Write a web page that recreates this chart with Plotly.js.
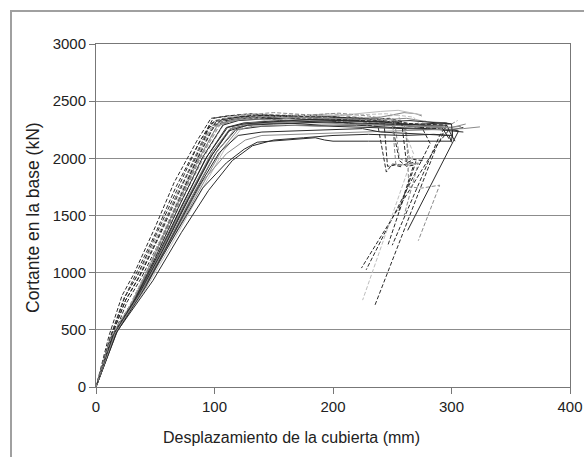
<!DOCTYPE html>
<html>
<head>
<meta charset="utf-8">
<script src="https://cdn.plot.ly/plotly-3.0.1.min.js"></script>
<style>
html,body{margin:0;padding:0;background:#fff;}
#wrap{position:relative;width:584px;height:457px;}
#chart{width:584px;height:457px;}
#frame{position:absolute;left:10px;top:10px;right:0;bottom:0;border-left:2px solid #a0a0a0;border-top:2px solid #a0a0a0;pointer-events:none;}
</style>
</head>
<body>
<div id="wrap"><div id="chart"></div><div id="frame"></div></div>
<script>
// Pushover curves: displacement (mm) vs base shear (kN)
const xTickVals = [0, 100, 200, 300, 400];
const yTickVals = [0, 500, 1000, 1500, 2000, 2500, 3000];
const xTitle = 'Desplazamiento de la cubierta (mm)';
const yTitle = 'Cortante en la base (kN)';

const cA_x = [0,12,24,34,50,67,84,99,110,130,160,190,220,248,265,285,295,290,224];
const cA_y = [0,430,780,990,1340,1740,2080,2350,2370,2390,2365,2380,2340,2350,2300,2280,2270,2150,1040];
const cB_x = [0,12,25,36,52,68,84,96,108,125,150,175,205,235,258,275,282,228];
const cB_y = [0,410,760,960,1300,1680,2000,2300,2350,2370,2360,2375,2335,2350,2290,2270,2130,1025];
const cC_x = [0,13,26,38,55,72,88,95,106,125,150,180,210,240,265,290,298,288,235];
const cC_y = [0,400,740,950,1300,1680,2060,2270,2330,2360,2350,2365,2320,2330,2280,2260,2250,2120,705];
const cD_x = [0,14,32,50,70,90,104,115,140,170,200,230,255,268,225];
const cD_y = [0,460,770,1160,1620,2050,2300,2340,2380,2370,2390,2350,2380,2040,760];
const cE_x = [0,15,34,52,72,92,108,120,145,175,210,240,262,264,275,290,272];
const cE_y = [0,470,790,1170,1620,2030,2300,2340,2360,2350,2340,2310,2250,1750,1740,1765,1280];
const cF_x = [0,16,36,56,78,98,114,130,160,190,220,250,280,300,306,263];
const cF_y = [0,480,800,1190,1640,2030,2260,2300,2310,2290,2290,2270,2260,2250,2240,1370];
const cG_x = [0,12,25,37,54,72,90,104,120,150,180,210,238,245,250,258,265,270,246];
const cG_y = [0,420,760,970,1330,1740,2160,2320,2350,2340,2360,2310,2280,1880,1950,1940,1960,1970,1230];
const cH_x = [0,12,29,46,63,82,100,112,130,160,195,225,250,256,262,268,255];
const cH_y = [0,430,720,1080,1480,1920,2290,2330,2360,2350,2365,2320,2290,1980,1930,1940,1520];
const cI_x = [0,13,31,48,66,86,103,116,140,175,205,235,260,265,272];
const cI_y = [0,440,740,1110,1520,1980,2300,2340,2370,2360,2380,2330,2300,1960,1950];
const cJ_x = [0,16,38,60,82,102,118,140,170,200,230,260,290,300,310];
const cJ_y = [0,470,820,1240,1680,2060,2250,2280,2290,2280,2270,2260,2250,2240,2230];
const cK_x = [0,17,40,62,85,106,122,150,180,210,240,260,270,275];
const cK_y = [0,480,840,1250,1690,2070,2280,2320,2330,2340,2360,2400,2390,2370];
const cL_x = [0,18,42,65,88,108,125,150,180,210,240,255,265,275];
const cL_y = [0,490,860,1270,1700,2070,2290,2350,2370,2380,2410,2420,2400,2380];
const cM_x = [0,14,34,54,76,97,113,135,165,195,225,250,270,285,300];
const cM_y = [0,450,780,1170,1620,2040,2260,2300,2320,2330,2320,2300,2290,2280,2270];
const cN_x = [0,17,34,46,70,90,110,125,136,160,175,185,193,200,230,260,300,301,310];
const cN_y = [0,500,760,963,1390,1740,1960,2080,2141,2160,2170,2180,2160,2150,2150,2150,2150,2250,2270];
const cO_x = [0,17,44,68,90,110,126,140,170,200,230,260,290,310,324];
const cO_y = [0,480,920,1380,1800,2040,2160,2200,2210,2220,2230,2240,2250,2260,2275];
const cP_x = [0,17,42,64,86,104,120,140,170,200,225,240,260,280,298,300];
const cP_y = [0,470,880,1310,1740,2050,2200,2230,2240,2250,2260,2230,2220,2210,2200,2140];
const cQ_x = [0,13,32,50,70,90,107,120,150,180,210,240,260,280,296,300];
const cQ_y = [0,440,760,1130,1580,2010,2290,2330,2350,2340,2330,2320,2300,2290,2290,2200];
const cR_x = [0,12,28,44,62,80,98,110,135,165,195,225,250,268,285,300,305];
const cR_y = [0,420,700,1040,1460,1890,2290,2340,2370,2360,2350,2340,2320,2300,2290,2300,2330];
const cS_x = [0,14,33,52,72,92,110,125,155,185,215,245,270,292,298];
const cS_y = [0,450,760,1130,1570,1990,2270,2310,2330,2320,2310,2300,2280,2270,2170];
const cT_x = [0,15,35,55,77,99,116,130,160,190,220,250,275,300,312];
const cT_y = [0,460,790,1190,1650,2070,2280,2310,2320,2310,2300,2290,2280,2270,2300];
const cU_x = [0,12,30,47,65,83,101,112,135,165,195,225,252,296,290,250];
const cU_y = [0,430,730,1100,1520,1950,2320,2350,2380,2360,2345,2330,2310,2290,2200,1240];
const cV_x = [0,12,30,47,66,85,102,115,130,150,170,195,220,245,262,280,296];
const cV_y = [0,430,730,1100,1540,1960,2280,2330,2345,2335,2360,2345,2355,2340,2350,2320,2310];
const cW_x = [0,11,22,32,50,66,85,97,112,130,150,175,200,225,243,246,252,258];
const cW_y = [0,450,800,990,1400,1790,2150,2350,2370,2385,2370,2380,2360,2350,2320,1930,1940,1925];
const cX_x = [0,15,35,55,75,96,112,128,150,175,200,225,250,275,295,300];
const cX_y = [0,460,790,1170,1590,2000,2240,2290,2300,2310,2320,2300,2290,2300,2310,2300];
const cY_x = [0,12,24,36,54,72,92,107,125,150,180,205,230,252,256,262,266];
const cY_y = [0,440,790,990,1370,1770,2200,2340,2380,2400,2380,2395,2370,2330,2000,1970,2010];
const cZ_x = [0,18,48,72,95,115,132,150,175,200,230,260,285,300,303];
const cZ_y = [0,490,930,1350,1720,1980,2110,2160,2180,2200,2210,2200,2210,2200,2150];
const cAA_x = [0,12,28,45,63,82,100,112,130,160,190,220,245,268,273,278];
const cAA_y = [0,430,700,1070,1500,1940,2320,2360,2390,2380,2370,2380,2390,2360,2300,2330];
const cAB_x = [0,16,37,58,80,100,116,132,160,190,220,250,275,298,308];
const cAB_y = [0,470,810,1210,1650,2030,2240,2280,2290,2280,2300,2290,2280,2270,2280];
const cAC_x = [0,12,24,35,52,70,88,100,120,145,175,205,235,258,262,268,276];
const cAC_y = [0,430,780,980,1360,1760,2160,2330,2360,2380,2365,2360,2340,2310,1960,1990,1980];
const cAD_x = [0,14,33,52,73,94,111,124,150,180,210,240,265,285,300,301];
const cAD_y = [0,450,770,1150,1600,2020,2270,2300,2320,2340,2330,2320,2330,2310,2300,2180];
const cAE_x = [0,13,31,49,68,88,105,118,145,175,205,235,250,253,262,272,260];
const cAE_y = [0,440,750,1130,1560,2000,2300,2340,2365,2355,2350,2340,2320,1950,1940,1960,1500];

const BLK = '#2a2a2a', GRY = '#8a8a8a', LGT = '#bdbdbd';
const curves = [
  [cA_x,cA_y,BLK,'dash'],[cB_x,cB_y,BLK,'dash'],[cC_x,cC_y,BLK,'dash'],
  [cD_x,cD_y,LGT,'dash'],[cE_x,cE_y,GRY,'dash'],[cF_x,cF_y,BLK,'solid'],
  [cG_x,cG_y,BLK,'dash'],[cH_x,cH_y,BLK,'dash'],[cI_x,cI_y,GRY,'dash'],
  [cJ_x,cJ_y,BLK,'solid'],[cK_x,cK_y,GRY,'solid'],[cL_x,cL_y,LGT,'solid'],
  [cM_x,cM_y,GRY,'solid'],[cN_x,cN_y,BLK,'solid'],[cO_x,cO_y,GRY,'solid'],
  [cP_x,cP_y,BLK,'solid'],[cQ_x,cQ_y,BLK,'solid'],[cR_x,cR_y,GRY,'dash'],
  [cS_x,cS_y,BLK,'solid'],[cT_x,cT_y,GRY,'solid'],[cU_x,cU_y,BLK,'dash'],
  [cV_x,cV_y,GRY,'solid'],[cW_x,cW_y,BLK,'dash'],[cX_x,cX_y,BLK,'solid'],
  [cY_x,cY_y,GRY,'dash'],[cZ_x,cZ_y,BLK,'solid'],[cAA_x,cAA_y,LGT,'dash'],
  [cAB_x,cAB_y,GRY,'solid'],[cAC_x,cAC_y,BLK,'dash'],[cAD_x,cAD_y,BLK,'solid'],
  [cAE_x,cAE_y,GRY,'dash']
];

const traces = curves.map(c => ({
  x: c[0], y: c[1], type: 'scatter', mode: 'lines',
  line: {color: c[2], width: 1, dash: c[3] === 'dash' ? '4px,2px' : 'solid'},
  hoverinfo: 'skip', showlegend: false
}));

const font = {family: 'Liberation Sans, Arial, sans-serif', size: 15, color: '#222'};
const xTitleFont = {family: 'Liberation Sans, Arial, sans-serif', size: 16, color: '#222'};
const yTitleFont = {family: 'Liberation Sans, Arial, sans-serif', size: 17.5, color: '#222'};
const layout = {
  width: 584, height: 457,
  margin: {l: 96, r: 14, t: 44, b: 70, pad: 0},
  paper_bgcolor: '#fff', plot_bgcolor: '#fff',
  font: font, showlegend: false,
  xaxis: {
    range: [0, 400], tickvals: xTickVals, ticktext: xTickVals.map(String),
    showgrid: false, zeroline: false,
    showline: true, linecolor: '#777', linewidth: 1, mirror: true,
    ticks: 'outside', ticklen: 6, tickcolor: '#777',
    tickfont: font
  },
  yaxis: {
    range: [0, 3000], tickvals: yTickVals, ticktext: yTickVals.map(String),
    showgrid: true, gridcolor: '#8c8c8c', gridwidth: 1, zeroline: false,
    showline: true, linecolor: '#777', linewidth: 1, mirror: true,
    ticks: 'outside', ticklen: 6, tickcolor: '#777',
    tickfont: font
  },
  annotations: [
    {text: xTitle, xref: 'paper', yref: 'paper', x: 0.4135, y: -0.1458,
     xanchor: 'center', yanchor: 'middle', showarrow: false, font: xTitleFont},
    {text: yTitle, xref: 'paper', yref: 'paper', x: -0.1329, y: 0.4927,
     xanchor: 'center', yanchor: 'middle', showarrow: false, textangle: -90, font: yTitleFont}
  ]
};
Plotly.newPlot('chart', traces, layout, {displayModeBar: false, staticPlot: true});
</script>
</body>
</html>
